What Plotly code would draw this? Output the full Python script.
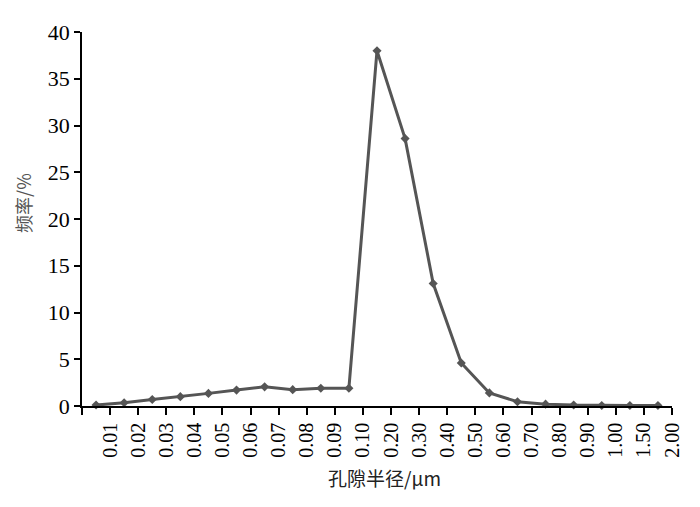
import plotly.graph_objects as go

tick_labels = ["0.01", "0.02", "0.03", "0.04", "0.05", "0.06", "0.07", "0.08", "0.09", "0.10",
               "0.20", "0.30", "0.40", "0.50", "0.60", "0.70", "0.80", "0.90", "1.00", "1.50", "2.00"]
frequency = [0.1, 0.35, 0.7, 1.0, 1.35, 1.7, 2.05, 1.75, 1.9, 1.9,
             38.0, 28.6, 13.1, 4.6, 1.4, 0.45, 0.2, 0.1, 0.05, 0.05, 0.05]

n = len(frequency)
x_pos = [i + 0.5 for i in range(n)]

fig = go.Figure()
fig.add_trace(go.Scatter(
    x=x_pos, y=frequency, mode="lines+markers",
    line=dict(color="#555555", width=3),
    marker=dict(symbol="diamond", size=7, color="#555555"),
    cliponaxis=False, showlegend=False,
))

fig.update_layout(
    width=692, height=499,
    margin=dict(l=74, r=28, t=15, b=101),
    plot_bgcolor="white", paper_bgcolor="white",
    font=dict(family="Liberation Serif, Times New Roman, serif", color="black"),
    xaxis=dict(
        range=[0, n], tickmode="array",
        tickvals=list(range(0, n + 1)),
        ticktext=[""] + tick_labels,
        tickangle=-90, ticks="outside", ticklen=7, tickwidth=1.5, tickcolor="black",
        showline=True, linecolor="black", linewidth=1.5,
        showgrid=False, zeroline=False,
        tickfont=dict(size=20, family="Liberation Serif, serif"),
    ),
    yaxis=dict(
        range=[0, 40], dtick=5, ticks="outside", ticklen=6, tickwidth=1.5, tickcolor="black",
        showline=True, linecolor="black", linewidth=1.5,
        showgrid=False, zeroline=False,
        tickfont=dict(size=22, family="Liberation Serif, serif"),
    ),
    annotations=[
        dict(text="孔隙半径/μm", xref="paper", yref="paper", x=0.513, y=-0.19,
             xanchor="center", yanchor="middle", showarrow=False,
             font=dict(size=19, family="Noto Sans CJK SC, serif", color="#222222")),
        dict(text="频率/%", xref="paper", yref="paper", x=-0.1, y=0.543,
             xanchor="center", yanchor="middle", showarrow=False, textangle=-90,
             font=dict(size=18, family="Noto Sans CJK SC, sans-serif", color="#555555")),
    ],
)

fig.write_html("out.html")
